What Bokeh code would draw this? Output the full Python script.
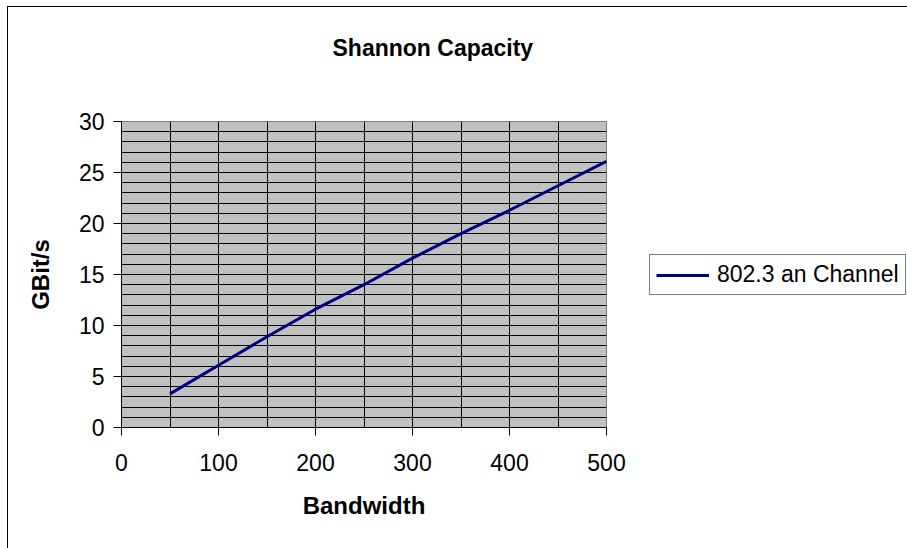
from bokeh.plotting import figure
from bokeh.layouts import row
from bokeh.models import Range1d, FixedTicker, SingleIntervalTicker, Legend, LegendItem, Title
from bokeh.embed import file_html
from bokeh.resources import INLINE

# ---- data ----
bandwidth = [50, 100, 150, 200, 250, 300, 350, 400, 450, 500]
capacity = [3.3, 6.1, 8.9, 11.6, 14.0, 16.6, 19.0, 21.3, 23.7, 26.1]
x_ticks = [0, 100, 200, 300, 400, 500]
y_ticks = [0, 5, 10, 15, 20, 25, 30]
series_name = "802.3 an Channel"
title_text = "Shannon Capacity"
x_label = "Bandwidth"
y_label = "GBit/s"

FONT = "Liberation Sans"
LINE_COLOR = "#000080"

p = figure(frame_width=485, frame_height=306, output_backend="svg", toolbar_location=None,
           x_range=Range1d(0, 500), y_range=Range1d(0, 30),
           min_border_left=113, min_border_top=114, min_border_right=22,
           min_border_bottom=121)

p.background_fill_color = "#C0C0C0"
p.border_fill_color = "white"
p.outline_line_color = "#808080"
p.outline_line_width = 1

# spacer between frame and title
p.add_layout(Title(text=" ", text_font_size="10px", standoff=43), "above")

# title (outermost in the above panel)
p.title.text = title_text
p.title.text_font = FONT
p.title.text_font_size = "23px"
p.title.text_font_style = "bold"
p.title.text_color = "black"
p.title.align = "left"
p.title.offset = 211
p.title.standoff = 10

# grids
p.xgrid.ticker = SingleIntervalTicker(interval=50, num_minor_ticks=0)
p.ygrid.ticker = SingleIntervalTicker(interval=1, num_minor_ticks=0)
for g in (p.xgrid[0], p.ygrid[0]):
    g.grid_line_color = "black"
    g.grid_line_width = 1

# axes
p.xaxis.ticker = FixedTicker(ticks=x_ticks)
p.yaxis.ticker = FixedTicker(ticks=y_ticks)
for ax in (p.xaxis[0], p.yaxis[0]):
    ax.axis_line_color = "black"
    ax.major_tick_line_color = "black"
    ax.minor_tick_line_color = None
    ax.major_tick_in = 0
    ax.major_tick_out = 8
    ax.major_label_text_font = FONT
    ax.major_label_text_font_size = "23px"
    ax.major_label_text_color = "black"
    ax.axis_label_text_font = FONT
    ax.axis_label_text_font_style = "bold"
    ax.axis_label_text_font_size = "24px"
    ax.axis_label_text_color = "black"
p.xaxis.axis_label = x_label
p.yaxis.axis_label = y_label
p.xaxis.major_label_standoff = 18
p.xaxis.axis_label_standoff = 18
p.yaxis.major_label_standoff = 9
p.yaxis.axis_label_standoff = 22
p.yaxis.major_label_orientation = "horizontal"

p.line(bandwidth, capacity, line_color=LINE_COLOR, line_width=3)

# legend area (a second, axis-less figure to the right of the plot)
p2 = figure(width=279, height=541, output_backend="svg", toolbar_location=None,
            x_range=Range1d(0, 1), y_range=Range1d(0, 1),
            x_axis_type=None, y_axis_type=None,
            min_border_left=0, min_border_right=0, min_border_top=0, min_border_bottom=0)
p2.outline_line_color = None
p2.background_fill_color = "white"
p2.border_fill_color = "white"
p2.grid.visible = False
# legend proxy of the same series (its points fall outside this legend-only frame)
proxy = p2.line(bandwidth, capacity, line_color=LINE_COLOR, line_width=3)

legend = Legend(items=[LegendItem(label=series_name, renderers=[proxy])],
                location=(21, 132))
legend.border_line_color = "black"
legend.border_line_width = 1
legend.background_fill_color = "white"
legend.label_text_font = FONT
legend.label_text_font_size = "23px"
legend.label_text_color = "black"
legend.glyph_width = 53
legend.label_standoff = 8
legend.padding = 6
legend.margin = 0
legend.spacing = 0
p2.add_layout(legend, "center")

layout = row(p, p2, spacing=0,
             styles={"outline": "1px solid black", "margin-left": "8px", "margin-top": "7px"})

open("out.html", "w").write(file_html(layout, INLINE))
